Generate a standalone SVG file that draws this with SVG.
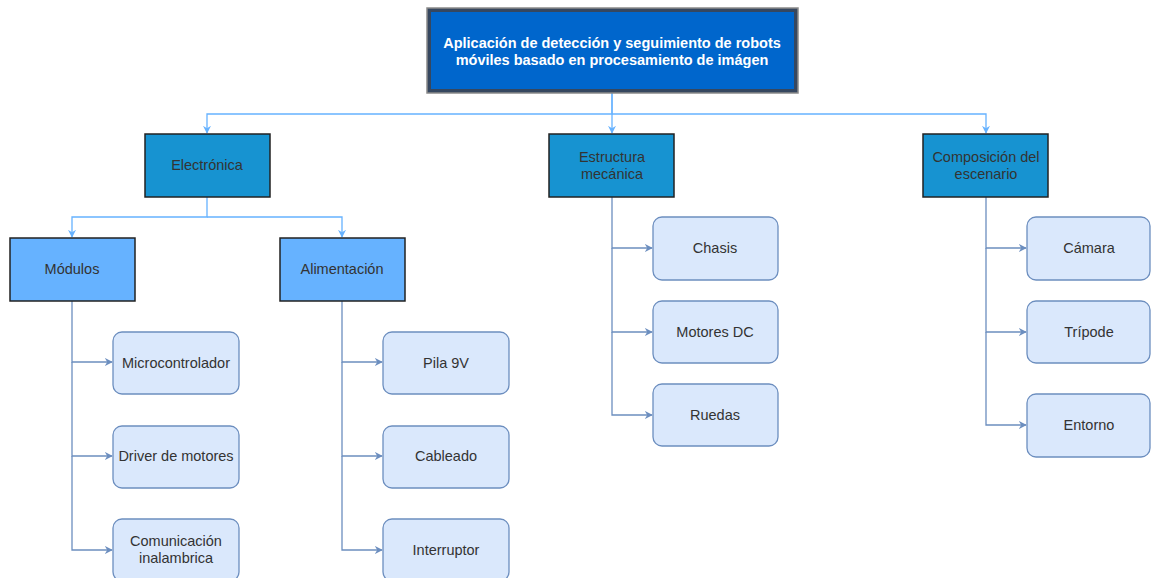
<svg xmlns="http://www.w3.org/2000/svg" width="1151" height="578" viewBox="0 0 1151 578">
<style>
text{font-family:"Liberation Sans",Arial,sans-serif;font-size:14.5px;text-anchor:middle;dominant-baseline:central;fill:#333333}
.title{fill:#ffffff;font-weight:bold;font-size:14.5px}
.l1{fill:#1793d1;stroke:#222222;stroke-width:1.5}
.l2{fill:#66b2ff;stroke:#222222;stroke-width:1.5}
.leaf{fill:#dae8fc;stroke:#6c8ebf;stroke-width:1.3}
.c1{fill:none;stroke:#66b2ff;stroke-width:1.3}
.c2{fill:none;stroke:#6c8ebf;stroke-width:1.3}
</style>
<defs>
<marker id="a1" viewBox="0 0 10 10" refX="9" refY="5" markerWidth="8" markerHeight="8" markerUnits="userSpaceOnUse" orient="auto"><path d="M0,0 L10,5 L0,10 L3,5 Z" fill="#66b2ff"/></marker>
<marker id="a2" viewBox="0 0 10 10" refX="9" refY="5" markerWidth="8" markerHeight="8" markerUnits="userSpaceOnUse" orient="auto"><path d="M0,0 L10,5 L0,10 L3,5 Z" fill="#6c8ebf"/></marker>
</defs>
<g id="connectors">
<path class="c1" d="M612,93 V114 H207 V133" marker-end="url(#a1)"/>
<path class="c1" d="M612,93 V133" marker-end="url(#a1)"/>
<path class="c1" d="M612,114 H986 V133" marker-end="url(#a1)"/>
<path class="c1" d="M207,197 V217 H72 V237" marker-end="url(#a1)"/>
<path class="c1" d="M207,217 H342 V237" marker-end="url(#a1)"/>
<path class="c2" d="M72,301 V362 H112" marker-end="url(#a2)"/>
<path class="c2" d="M72,362 V456 H112" marker-end="url(#a2)"/>
<path class="c2" d="M72,456 V550 H112" marker-end="url(#a2)"/>
<path class="c2" d="M342,301 V362 H382" marker-end="url(#a2)"/>
<path class="c2" d="M342,362 V456 H382" marker-end="url(#a2)"/>
<path class="c2" d="M342,456 V550 H382" marker-end="url(#a2)"/>
<path class="c2" d="M612,197 V248 H652" marker-end="url(#a2)"/>
<path class="c2" d="M612,248 V332 H652" marker-end="url(#a2)"/>
<path class="c2" d="M612,332 V415 H652" marker-end="url(#a2)"/>
<path class="c2" d="M986,197 V248 H1026" marker-end="url(#a2)"/>
<path class="c2" d="M986,248 V332 H1026" marker-end="url(#a2)"/>
<path class="c2" d="M986,332 V425 H1026" marker-end="url(#a2)"/>
</g>
<g id="root">
<rect x="427" y="8" width="371" height="85" fill="#36475f" stroke="#8a8a8a" stroke-width="1.5"/>
<rect x="431" y="12" width="363" height="77" fill="#0066cc"/>
<text class="title" x="612" y="43">Aplicación de detección y seguimiento de robots</text>
<text class="title" x="612" y="60">móviles basado en procesamiento de imágen</text>
</g>
<g id="electronica"><rect class="l1" x="145" y="134" width="125" height="63"/><text x="207" y="165">Electrónica</text></g>
<g id="estructura"><rect class="l1" x="549" y="134" width="125" height="63"/><text x="612" y="157">Estructura</text><text x="612" y="174">mecánica</text></g>
<g id="composicion"><rect class="l1" x="923" y="134" width="125" height="63"/><text x="986" y="157">Composición del</text><text x="986" y="174">escenario</text></g>
<g id="modulos"><rect class="l2" x="10" y="238" width="125" height="63"/><text x="72" y="269">Módulos</text></g>
<g id="alimentacion"><rect class="l2" x="280" y="238" width="125" height="63"/><text x="342" y="269">Alimentación</text></g>
<g id="microcontrolador"><rect class="leaf" x="113" y="332" width="126" height="62" rx="9"/><text x="176" y="363">Microcontrolador</text></g>
<g id="driver"><rect class="leaf" x="113" y="426" width="126" height="62" rx="9"/><text x="176" y="456">Driver de motores</text></g>
<g id="comunicacion"><rect class="leaf" x="113" y="519" width="126" height="62" rx="9"/><text x="176" y="541">Comunicación</text><text x="176" y="558">inalambrica</text></g>
<g id="pila"><rect class="leaf" x="383" y="332" width="126" height="62" rx="9"/><text x="446" y="363">Pila 9V</text></g>
<g id="cableado"><rect class="leaf" x="383" y="426" width="126" height="62" rx="9"/><text x="446" y="456">Cableado</text></g>
<g id="interruptor"><rect class="leaf" x="383" y="519" width="126" height="62" rx="9"/><text x="446" y="550">Interruptor</text></g>
<g id="chasis"><rect class="leaf" x="653" y="217" width="125" height="63" rx="9"/><text x="715" y="248">Chasis</text></g>
<g id="motores"><rect class="leaf" x="653" y="301" width="125" height="62" rx="9"/><text x="715" y="332">Motores DC</text></g>
<g id="ruedas"><rect class="leaf" x="653" y="384" width="125" height="62" rx="9"/><text x="715" y="415">Ruedas</text></g>
<g id="camara"><rect class="leaf" x="1027" y="217" width="123" height="63" rx="9"/><text x="1089" y="248">Cámara</text></g>
<g id="tripode"><rect class="leaf" x="1027" y="301" width="123" height="62" rx="9"/><text x="1089" y="332">Trípode</text></g>
<g id="entorno"><rect class="leaf" x="1027" y="394" width="123" height="63" rx="9"/><text x="1089" y="425">Entorno</text></g>
</svg>
